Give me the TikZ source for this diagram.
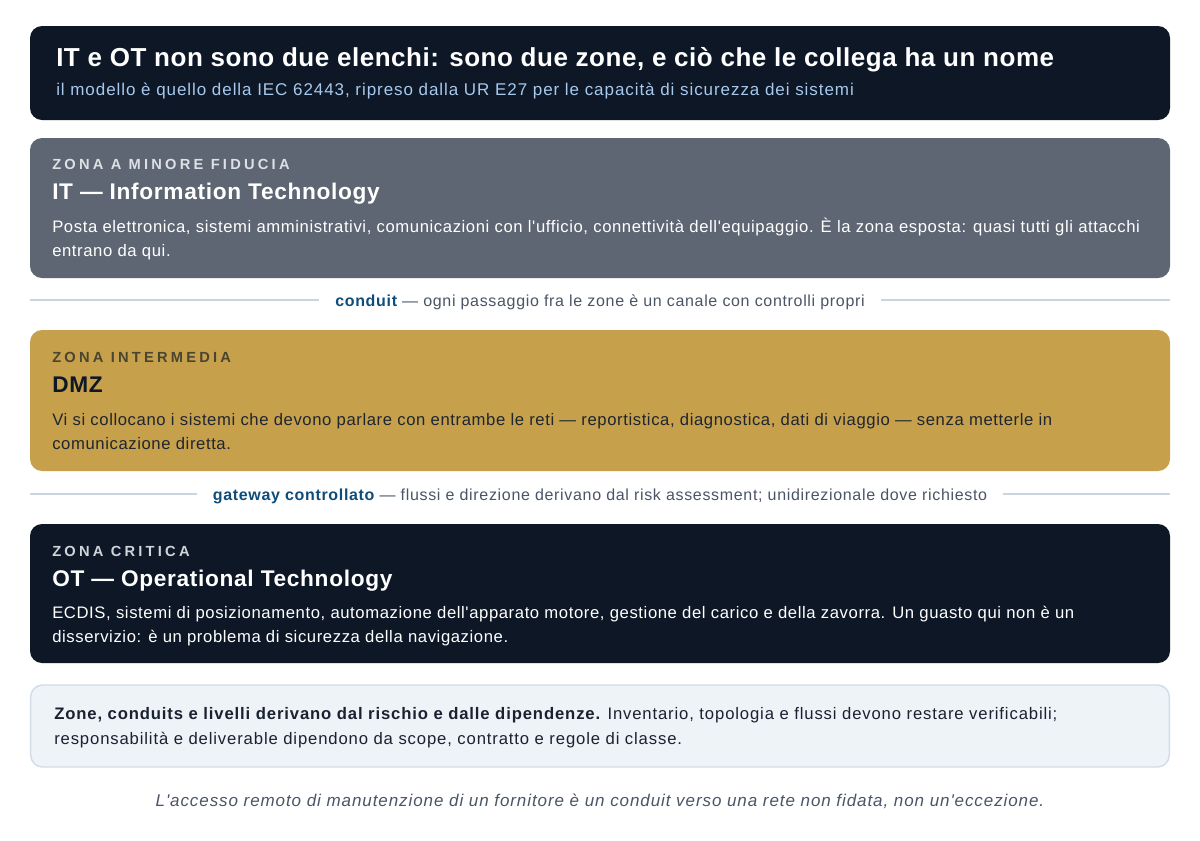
\documentclass[tikz,border=0pt]{standalone}
\usepackage{fontspec}
\setmainfont{Liberation Sans}[Ligatures=TeXOff]
\definecolor{navy}{HTML}{0D1726}
\definecolor{subblue}{HTML}{A8C8EC}
\definecolor{itgray}{HTML}{5D6672}
\definecolor{itlabel}{HTML}{DDE1E6}
\definecolor{sepline}{HTML}{C8D4E0}
\definecolor{linkblue}{HTML}{0E4D7A}
\definecolor{softtext}{HTML}{4A5566}
\definecolor{dmzgold}{HTML}{C6A04B}
\definecolor{dmzlabel}{HTML}{4A4530}
\definecolor{dmzbody}{HTML}{1F2630}
\definecolor{otlabel}{HTML}{D0D5DC}
\definecolor{notefill}{HTML}{EEF3F8}
\definecolor{noteborder}{HTML}{D3DDE7}
\definecolor{notetext}{HTML}{1A2230}
\tikzset{
  panel/.style={rounded corners=9pt, inner sep=0pt, minimum width=855pt},
  txt/.style={anchor=base west, inner sep=0pt},
  ctxt/.style={anchor=base, inner sep=0pt},
  zonelabel/.style={txt, font=\fontsize{11}{13}\selectfont\bfseries\addfontfeature{LetterSpace=22}},
  zonetitle/.style={txt, font=\fontsize{17}{20}\selectfont\bfseries\addfontfeature{LetterSpace=3}},
  body/.style={txt, font=\fontsize{12.5}{15}\selectfont\addfontfeature{LetterSpace=3.6}},
  notebody/.style={txt, font=\fontsize{12.5}{15}\selectfont\addfontfeature{LetterSpace=5.2}},
  septext/.style={ctxt, font=\fontsize{12}{14}\selectfont\addfontfeature{LetterSpace=4.2}},
  sep/.style={draw=sepline, line width=1.1pt},
}
\begin{document}
\begin{tikzpicture}[x=0.75pt,y=-0.75pt]
\useasboundingbox[fill=white] (0,0) rectangle (1200,840);
% header
\node (head) [panel, fill=navy, minimum height=70.5pt] at (600,73) {};
\node (headtitle) [txt, text=white, font=\fontsize{19.5}{23}\selectfont\bfseries\addfontfeature{LetterSpace=2}] at (56,66) {IT e OT non sono due elenchi: sono due zone, e ciò che le collega ha un nome};
\node (headsub) [txt, text=subblue, font=\fontsize{12.75}{15}\selectfont\addfontfeature{LetterSpace=5.5}] at (56,95) {il modello è quello della IEC 62443, ripreso dalla UR E27 per le capacità di sicurezza dei sistemi};
% IT zone
\node (itbox) [panel, fill=itgray, minimum height=105pt] at (600,208) {};
\node (itlab) [zonelabel, text=itlabel] at (52,169) {ZONA A MINORE FIDUCIA};
\node (ittitle) [zonetitle, text=white] at (52,199) {IT — Information Technology};
\node (itb1) [body, text=white] at (52,232) {Posta elettronica, sistemi amministrativi, comunicazioni con l'ufficio, connettività dell'equipaggio. È la zona esposta: quasi tutti gli attacchi};
\node (itb2) [body, text=white] at (52,256) {entrano da qui.};
% conduit separator
\node (cond) [septext, text=softtext] at (600,306) {\textcolor{linkblue}{\bfseries conduit} — ogni passaggio fra le zone è un canale con controlli propri};
\coordinate (c1L) at (30,300);
\coordinate (c1R) at (1170,300);
\draw[sep] (c1L) -- ([xshift=-12pt]c1L -| cond.west);
\draw[sep] ([xshift=12pt]c1R -| cond.east) -- (c1R);
% DMZ zone
\node (dmzbox) [panel, fill=dmzgold, minimum height=105.75pt] at (600,400.5) {};
\node (dmzlab) [zonelabel, text=dmzlabel] at (52,362) {ZONA INTERMEDIA};
\node (dmztitle) [zonetitle, text=navy] at (52,392) {DMZ};
\node (dmzb1) [body, text=dmzbody] at (52,425) {Vi si collocano i sistemi che devono parlare con entrambe le reti — reportistica, diagnostica, dati di viaggio — senza metterle in};
\node (dmzb2) [body, text=dmzbody] at (52,449) {comunicazione diretta.};
% gateway separator
\node (gw) [septext, text=softtext] at (600,500) {\textcolor{linkblue}{\bfseries gateway controllato} — flussi e direzione derivano dal risk assessment; unidirezionale dove richiesto};
\coordinate (c2L) at (30,494);
\coordinate (c2R) at (1170,494);
\draw[sep] (c2L) -- ([xshift=-12pt]c2L -| gw.west);
\draw[sep] ([xshift=12pt]c2R -| gw.east) -- (c2R);
% OT zone
\node (otbox) [panel, fill=navy, minimum height=104.25pt] at (600,593.5) {};
\node (otlab) [zonelabel, text=otlabel] at (52,556) {ZONA CRITICA};
\node (ottitle) [zonetitle, text=white] at (52,586) {OT — Operational Technology};
\node (otb1) [body, text=white] at (52,618) {ECDIS, sistemi di posizionamento, automazione dell'apparato motore, gestione del carico e della zavorra. Un guasto qui non è un};
\node (otb2) [body, text=white] at (52,642) {disservizio: è un problema di sicurezza della navigazione.};
% note
\node (note) [panel, fill=notefill, draw=noteborder, line width=1.1pt, minimum width=854pt, minimum height=61.5pt] at (600,726) {};
\node (n1) [notebody, text=notetext] at (54,719) {\bfseries Zone, conduits e livelli derivano dal rischio e dalle dipendenze.\mdseries{} Inventario, topologia e flussi devono restare verificabili;};
\node (n2) [notebody, text=notetext] at (54,744) {responsabilità e deliverable dipendono da scope, contratto e regole di classe.};
% footer
\node (foot) [ctxt, font=\fontsize{12.75}{15}\selectfont\itshape\addfontfeature{LetterSpace=5.4}, text=softtext] at (600,806) {L'accesso remoto di manutenzione di un fornitore è un conduit verso una rete non fidata, non un'eccezione.};
\end{tikzpicture}
\end{document}
